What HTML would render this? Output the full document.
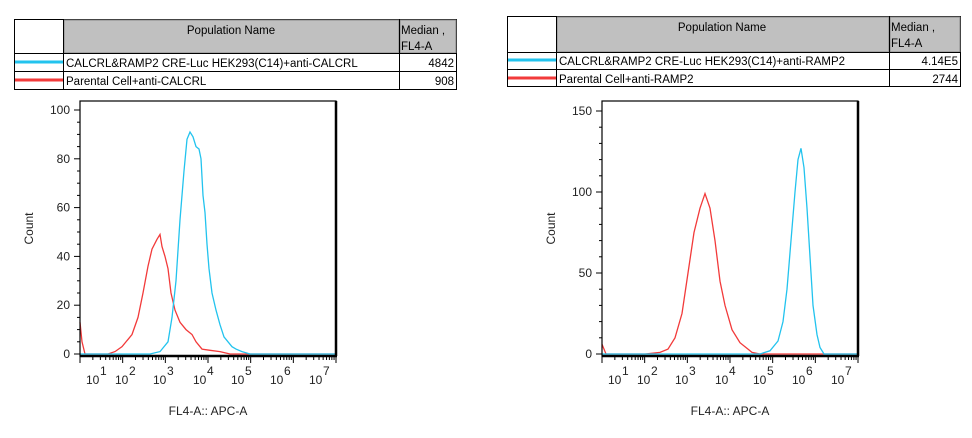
<!DOCTYPE html>
<html><head><meta charset="utf-8"><style>
html,body{margin:0;padding:0;background:#fff;}
svg{display:block;font-family:"Liberation Sans",Arial,sans-serif;}
</style></head><body>
<svg id="s" width="972" height="438" xmlns="http://www.w3.org/2000/svg">
<!-- left table -->
<g font-size="11.5" fill="#000">
<rect x="14.5" y="19.5" width="442" height="70" fill="#fff" stroke="#000"/>
<rect x="64" y="20" width="335" height="33" fill="#c0c0c0" stroke="#888"/>
<rect x="400" y="20" width="56" height="33" fill="#c0c0c0" stroke="#888"/>
<line x1="63.5" y1="19" x2="63.5" y2="90" stroke="#000"/>
<line x1="399.5" y1="19" x2="399.5" y2="90" stroke="#000"/>
<line x1="14" y1="53.5" x2="457" y2="53.5" stroke="#000"/>
<line x1="14" y1="71.5" x2="457" y2="71.5" stroke="#000"/>
<text x="231" y="34" text-anchor="middle">Population Name</text>
<text x="401" y="34">Median ,</text>
<text x="401" y="50">FL4-A</text>
<line x1="15" y1="62" x2="63" y2="62" stroke="#22c3ee" stroke-width="3"/>
<line x1="15" y1="80" x2="63" y2="80" stroke="#f23a3a" stroke-width="3"/>
<text x="66" y="67">CALCRL&amp;RAMP2 CRE-Luc HEK293(C14)+anti-CALCRL</text>
<text x="454" y="67" text-anchor="end">4842</text>
<text x="66" y="85">Parental Cell+anti-CALCRL</text>
<text x="454" y="85" text-anchor="end">908</text>
</g>
<!-- right table -->
<g font-size="11.5" fill="#000">
<rect x="507.5" y="16.5" width="453" height="70" fill="#fff" stroke="#000"/>
<rect x="557" y="17" width="332" height="35" fill="#c0c0c0" stroke="#888"/>
<rect x="890" y="17" width="70" height="35" fill="#c0c0c0" stroke="#888"/>
<line x1="556.5" y1="16" x2="556.5" y2="87" stroke="#000"/>
<line x1="889.5" y1="16" x2="889.5" y2="87" stroke="#000"/>
<line x1="507" y1="52.5" x2="961" y2="52.5" stroke="#000"/>
<line x1="507" y1="69.5" x2="961" y2="69.5" stroke="#000"/>
<text x="722" y="31" text-anchor="middle">Population Name</text>
<text x="891" y="31">Median ,</text>
<text x="891" y="47">FL4-A</text>
<line x1="508" y1="60" x2="556" y2="60" stroke="#22c3ee" stroke-width="3"/>
<line x1="508" y1="78" x2="556" y2="78" stroke="#f23a3a" stroke-width="3"/>
<text x="559" y="65">CALCRL&amp;RAMP2 CRE-Luc HEK293(C14)+anti-RAMP2</text>
<text x="958" y="65" text-anchor="end">4.14E5</text>
<text x="559" y="83">Parental Cell+anti-RAMP2</text>
<text x="958" y="83" text-anchor="end">2744</text>
</g>
<g id="plots"></g>
</svg>
<script>
const NS="http://www.w3.org/2000/svg";
const g=document.getElementById('plots');
function el(t,a,txt){const e=document.createElementNS(NS,t);for(const k in a)e.setAttribute(k,a[k]);if(txt!=null)e.textContent=txt;g.appendChild(e);return e;}
function plot(x0,x1,yt,yb,y0px,pxPerUnit,yMax,major,minor,blue,red,labelXs){
  const dec=(x1-x0)/6;
  // curves
  const mk=(d)=>d.map(p=>p[0]+','+(yb-2-p[1]*pxPerUnit).toFixed(1)).join(' ');
  el('polyline',{points:mk(red),fill:'none',stroke:'#f23a3a','stroke-width':1.3});
  el('polyline',{points:mk(blue),fill:'none',stroke:'#22c3ee','stroke-width':1.3});
  // box
  el('rect',{x:x0,y:yt,width:x1-x0,height:yb-yt,fill:'none',stroke:'#000','stroke-width':1.2});
  el('line',{x1:x0,y1:yb,x2:x1+1,y2:yb,stroke:'#000','stroke-width':2.5});
  el('line',{x1:x1,y1:yt,x2:x1,y2:yb,stroke:'#000','stroke-width':2.5});
  // y ticks
  for(let v=0;v<=yMax;v+=minor){
    const y=yb-2-v*pxPerUnit; const isM=v%major==0;
    el('line',{x1:x0-(isM?6:3),y1:y,x2:x0,y2:y,stroke:'#000'});
    if(isM) el('text',{x:x0-10,y:y+4,'font-size':12,'text-anchor':'end',fill:'#222'},v);
  }
  // x ticks
  for(let d=0;d<6;d++){
    for(let k=1;k<10;k++){
      const x=x0+d*dec+Math.log10(k)*dec;
      el('line',{x1:x,y1:yb,x2:x,y2:yb+(k==1?7:4),stroke:'#000'});
    }
  }
  el('line',{x1:x1,y1:yb,x2:x1,y2:yb+7,stroke:'#000'});
  labelXs.forEach((lx,i)=>{
    el('text',{x:lx,y:384,'font-size':12,fill:'#222'},'10');
    el('text',{x:lx+14,y:375,'font-size':12,fill:'#222'},i+1);
  });
  el('text',{x:(x0+x1)/2,y:415,'font-size':12,'text-anchor':'middle',fill:'#222'},'FL4-A:: APC-A');
  const cy=(yt+yb)/2;
  el('text',{x:x0-47,y:cy,'font-size':12,'text-anchor':'middle',fill:'#222',transform:`rotate(-90 ${x0-47} ${cy})`},'Count');
}
const lb=[[80,0],[150,0],[160,1],[168,5],[172,15],[176,30],[180,55],[184,75],[187,88],[190,91],[193,89],[196,85],[199,84],[201,80],[203,65],[205,58],[207,45],[209,35],[212,25],[216,18],[220,12],[224,7],[228,5],[232,3],[236,2],[242,1],[250,0],[335,0]];
const lr=[[80,13],[82,5],[85,0],[108,0],[115,1],[122,3],[128,6],[132,8],[138,15],[143,25],[148,36],[152,43],[157,47],[160,49],[162,44],[165,40],[168,35],[171,25],[175,18],[180,13],[186,10],[192,8],[196,5],[202,2],[210,1.5],[220,1],[230,0],[335,0]];
plot(80,336,101,356,0,2.44,100,20,5,lb,lr,[86,115,153,193,231,270,309]);
const rb=[[602,0],[760,0],[770,2],[778,8],[783,20],[787,40],[791,70],[795,100],[798,120],[801,127],[804,115],[807,90],[810,60],[813,30],[817,12],[820,4],[824,0],[857,0]];
const rr=[[602,6],[606,0],[645,0],[660,1],[668,3],[675,10],[682,25],[688,50],[694,75],[700,90],[705,99],[710,90],[715,70],[720,45],[725,30],[732,15],[740,7],[748,3],[752,1],[760,0],[857,0]];
plot(602,858,101,356,0,1.62,150,50,10,rb,rr,[608,637,675,715,753,792,831]);
</script>
</body></html>
